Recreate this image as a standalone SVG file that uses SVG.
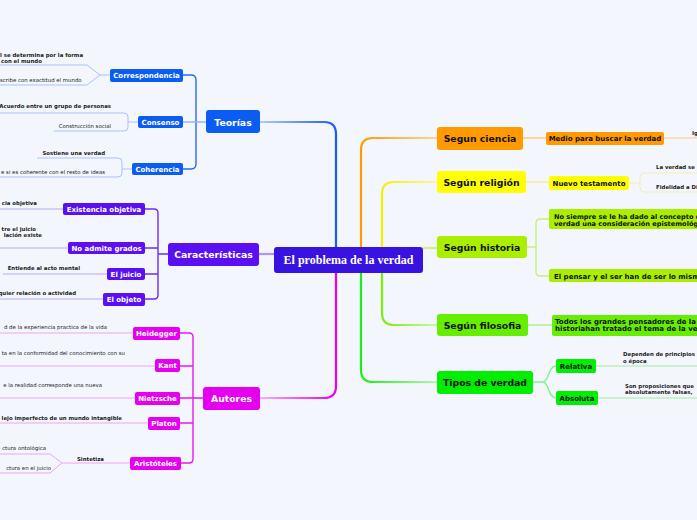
<svg xmlns="http://www.w3.org/2000/svg" width="697" height="520" viewBox="0 0 697 520">
<defs>
<style>
.b{font-family:"DejaVu Sans",Verdana,sans-serif;font-weight:bold}
.n{font-family:"DejaVu Sans",Verdana,sans-serif}
.main{font-size:9.3px;text-anchor:middle}
.sub{font-size:7px;text-anchor:middle}
.sm{font-size:5.4px;fill:#222}
.w{fill:#fff}
.k{fill:#111}
.e{text-anchor:end}
.thin{fill:none;stroke-width:1}
.br{fill:none;stroke-width:1.4}
.mc{fill:none;stroke-width:2.2}
</style>
<linearGradient id="gB" x1="0" y1="0" x2="1" y2="0"><stop offset="0" stop-color="#b4cbf8"/><stop offset="1" stop-color="#1a5cf0"/></linearGradient>
<linearGradient id="gM" x1="0" y1="0" x2="1" y2="0"><stop offset="0" stop-color="#f5b0f8"/><stop offset="1" stop-color="#e800f0"/></linearGradient>
<linearGradient id="gO" x1="0" y1="0" x2="1" y2="0"><stop offset="0" stop-color="#ff9a00"/><stop offset="1" stop-color="#ffd595"/></linearGradient>
<linearGradient id="gY" x1="0" y1="0" x2="1" y2="0"><stop offset="0" stop-color="#f5f000"/><stop offset="1" stop-color="#fbf5a8"/></linearGradient>
<linearGradient id="gL" x1="0" y1="0" x2="1" y2="0"><stop offset="0" stop-color="#77f000"/><stop offset="1" stop-color="#c8f8a8"/></linearGradient>
<linearGradient id="gG" x1="0" y1="0" x2="1" y2="0"><stop offset="0" stop-color="#18f018"/><stop offset="1" stop-color="#b0f8b0"/></linearGradient>
</defs>
<rect x="0" y="0" width="697" height="520" fill="#f3f6fd"/>

<g id="connectors">
<path class="mc" stroke="url(#gB)" d="M260,122 H324 Q336,122 336,134 V247"/>
<path class="mc" stroke="url(#gM)" d="M260,398 H324 Q336,398 336,386 V273"/>
<path class="mc" stroke="url(#gO)" d="M361,247 V150 Q361,138 373,138 H437"/>
<path class="mc" stroke="url(#gY)" d="M382,247 V194 Q382,182 394,182 H437"/>
<path class="mc" stroke="#d2f090" d="M423,248 H437"/>
<path class="mc" stroke="url(#gL)" d="M382,273 V313 Q382,325 394,325 H437"/>
<path class="mc" stroke="url(#gG)" d="M361,273 V370 Q361,382 373,382 H437"/>
<path class="mc" stroke="#ab95f8" d="M259,254 H274"/>
<path class="br" stroke="#2a68f2" d="M183,75 H191 Q196,75 196,80 V164 Q196,169 191,169 H183"/>
<path class="br" stroke="#8fb0f6" d="M183,122 H206"/>
<path class="thin" stroke="#a9c3f7" d="M110,75 H100 L87,65 H0 M100,75 L87,85 H0"/>
<path class="thin" stroke="#a9c3f7" d="M138,122 H128 M0,113 H124 Q128,113 128,117 V127 Q128,131 124,131 H54"/>
<path class="thin" stroke="#a9c3f7" d="M132,169 H122 M37,158 H118 Q122,158 122,162 V173 Q122,177 118,177 H0"/>
<path class="br" stroke="#6a2ff5" d="M145,209 H154 Q158,209 158,213 V295 Q158,299 154,299 H145 M145,248 H158 M145,274 H158 M158,254 H168"/>
<path class="thin" stroke="#bba6f8" d="M63,209 H0 M68,248 H0 M107,274 H3 M103,299 H0"/>
<path class="br" stroke="#e818f0" d="M180,333 H189 Q193,333 193,337 V459 Q193,463 189,463 H181 M180,366 H193 M180,398 H203 M180,423 H193"/>
<path class="thin" stroke="#f2a4f4" d="M133,333 H0 M155,366 H0 M135,398 H0 M148,423 H0 M130,463 H62 L50,454 H0 M62,463 L50,473 H0"/>
<path class="br" stroke="#ffc878" d="M523,138 H546"/>
<path class="thin" stroke="#ffc878" d="M664,138 H697"/>
<path class="br" stroke="#f3ec98" d="M526,182 H549"/>
<path class="thin" stroke="#f3ecb0" d="M629,183 H640 M697,173 H644 Q640,173 640,177 V188 Q640,192 644,192 H697"/>
<path class="br" stroke="#c8f078" d="M527,247 H536 M549,219 H540 Q536,219 536,223 V272 Q536,276 540,276 H549"/>
<path class="br" stroke="#a8f080" d="M528,325 H552"/>
<path class="br" stroke="#88f088" d="M533,382 H543 C549,382 548,366 556,366 M543,382 C549,382 548,398 556,398"/>
<path class="thin" stroke="#9cf09c" d="M596,366 H697 M598,398 H697"/>
</g>

<g id="central">
<rect x="274" y="247" width="149" height="26" rx="3" fill="#3812df"/>
<text x="348.5" y="264" font-family="Liberation Serif,serif" font-weight="bold" font-size="12" text-anchor="middle" fill="#fff">El problema de la verdad</text>
</g>

<g id="teorias">
<rect x="206" y="110" width="54" height="23" rx="3" fill="#0b5cf2"/>
<text class="b main w" x="233" y="125.5">Teorías</text>
</g>
<g id="correspondencia">
<rect x="110" y="69" width="73" height="13" rx="2" fill="#0b5cf2"/>
<text class="b sub w" x="146.5" y="78">Correspondencia</text>
<text class="b sm" x="0" y="57">l se determina por la forma</text>
<text class="b sm" x="1" y="63">con el mundo</text>
<text class="n sm" x="0" y="82">scribe con exactitud el mundo</text>
</g>
<g id="consenso">
<rect x="138" y="116" width="45" height="12" rx="2" fill="#0b5cf2"/>
<text class="b sub w" x="160.5" y="124.5">Consenso</text>
<text class="b sm e" x="111" y="108">Acuerdo entre un grupo de personas</text>
<text class="n sm e" x="111" y="128">Construcción social</text>
</g>
<g id="coherencia">
<rect x="132" y="163" width="51" height="12" rx="2" fill="#0b5cf2"/>
<text class="b sub w" x="157.5" y="171.5">Coherencia</text>
<text class="b sm e" x="105" y="155">Sostiene una verdad</text>
<text class="n sm e" x="105" y="174">e si es coherente con el resto de ideas</text>
</g>

<g id="caracteristicas">
<rect x="168" y="243" width="91" height="23" rx="3" fill="#5a10f2"/>
<text class="b main w" x="213.5" y="257.5">Características</text>
</g>
<g id="existencia">
<rect x="63" y="203" width="82" height="12" rx="2" fill="#5a10f2"/>
<text class="b sub w" x="104" y="211.5">Existencia objetiva</text>
<text class="b sm e" x="37" y="205">cia objetiva</text>
</g>
<g id="grados">
<rect x="68" y="242" width="77" height="12" rx="2" fill="#5a10f2"/>
<text class="b sub w" x="106.5" y="250.5">No admite grados</text>
<text class="b sm e" x="36" y="231">tre el juicio</text>
<text class="b sm e" x="42" y="237">lación existe</text>
</g>
<g id="juicio">
<rect x="107" y="268" width="38" height="12" rx="2" fill="#5a10f2"/>
<text class="b sub w" x="126" y="276.5">El juicio</text>
<text class="b sm e" x="80" y="270">Entiende al acto mental</text>
</g>
<g id="objeto">
<rect x="103" y="293" width="42" height="13" rx="2" fill="#5a10f2"/>
<text class="b sub w" x="124" y="302">El objeto</text>
<text class="b sm e" x="76" y="295">quier relación o actividad</text>
</g>

<g id="autores">
<rect x="203" y="387" width="57" height="23" rx="3" fill="#e600f0"/>
<text class="b main w" x="231.5" y="401.5">Autores</text>
</g>
<g id="heidegger">
<rect x="133" y="327" width="47" height="13" rx="2" fill="#e600f0"/>
<text class="b sub w" x="156.5" y="336">Heidegger</text>
<text class="n sm e" x="107" y="329">d de la experiencia practica de la vida</text>
</g>
<g id="kant">
<rect x="155" y="359" width="25" height="13" rx="2" fill="#e600f0"/>
<text class="b sub w" x="167.5" y="368">Kant</text>
<text class="n sm e" x="125" y="355">ta en la conformidad del conocimiento con su</text>
</g>
<g id="nietzsche">
<rect x="135" y="392" width="45" height="13" rx="2" fill="#e600f0"/>
<text class="b sub w" x="157.5" y="401">Nietzsche</text>
<text class="n sm e" x="102" y="387">e la realidad corresponde una nueva</text>
</g>
<g id="platon">
<rect x="148" y="417" width="32" height="13" rx="2" fill="#e600f0"/>
<text class="b sub w" x="164" y="426">Platon</text>
<text class="b sm e" x="122" y="420">lejo imperfecto de un mundo intangible</text>
</g>
<g id="aristoteles">
<rect x="130" y="457" width="51" height="13" rx="2" fill="#e600f0"/>
<text class="b sub w" x="155.5" y="466">Aristóteles</text>
<text class="b sm e" x="104" y="461">Sintetiza</text>
<text class="n sm e" x="46" y="450">ctura ontológica</text>
<text class="n sm e" x="51" y="470">ctura en el juicio</text>
</g>

<g id="ciencia">
<rect x="437" y="127" width="86" height="23" rx="3" fill="#ff9a00"/>
<text class="b main k" x="480" y="141.5">Segun ciencia</text>
</g>
<g id="medio">
<rect x="546" y="132" width="118" height="13" rx="2" fill="#ff9a00"/>
<text class="b sub k" x="605" y="141">Medio para buscar la verdad</text>
<text class="b sm" x="692" y="135">Ig</text>
</g>
<g id="religion">
<rect x="437" y="171" width="89" height="22" rx="3" fill="#ffff00"/>
<text class="b main k" x="481.5" y="185.5">Según religión</text>
</g>
<g id="testamento">
<rect x="549" y="176" width="80" height="14" rx="2" fill="#ffff00"/>
<text class="b sub k" x="589" y="185.5">Nuevo testamento</text>
<text class="b sm" x="656" y="169">La verdad se</text>
<text class="b sm" x="656" y="189">Fidelidad a Di</text>
</g>
<g id="historia">
<rect x="437" y="236" width="90" height="22" rx="3" fill="#aaee00"/>
<text class="b main k" x="482" y="250.5">Según historia</text>
</g>
<g id="historia1">
<rect x="549" y="209" width="160" height="20" rx="2" fill="#aaee00"/>
<text class="b" font-size="6.6" fill="#111" x="554" y="218.5">No siempre se le ha dado al concepto de</text>
<text class="b" font-size="6.6" fill="#111" x="554" y="225.5">verdad una consideración epistemológica</text>
</g>
<g id="historia2">
<rect x="549" y="269" width="160" height="13" rx="2" fill="#aaee00"/>
<text class="b" font-size="7" fill="#111" x="554" y="278.5">El pensar y el ser han de ser lo mismo</text>
</g>
<g id="filosofia">
<rect x="437" y="314" width="91" height="22" rx="3" fill="#66ee00"/>
<text class="b main k" x="482.5" y="328.5">Según filosofia</text>
</g>
<g id="filosofia1">
<rect x="552" y="315" width="160" height="21" rx="2" fill="#66ee00"/>
<text class="b" font-size="7" fill="#111" x="555" y="323.5">Todos los grandes pensadores de la</text>
<text class="b" font-size="7" fill="#111" x="555" y="330.5">historiahan tratado el tema de la verdad</text>
</g>
<g id="tipos">
<rect x="437" y="371" width="96" height="23" rx="3" fill="#00ee00"/>
<text class="b main k" x="485" y="386">Tipos de verdad</text>
</g>
<g id="relativa">
<rect x="556" y="359" width="40" height="14" rx="2" fill="#00ee00"/>
<text class="b sub k" x="576" y="368.5">Relativa</text>
<text class="b sm" x="623" y="356">Dependen de principios</text>
<text class="b sm" x="623" y="363">o época</text>
</g>
<g id="absoluta">
<rect x="556" y="391" width="42" height="14" rx="2" fill="#00ee00"/>
<text class="b sub k" x="577" y="400.5">Absoluta</text>
<text class="b sm" x="625" y="388">Son proposiciones que</text>
<text class="b sm" x="625" y="394">absolutamente falsas,</text>
</g>
</svg>
